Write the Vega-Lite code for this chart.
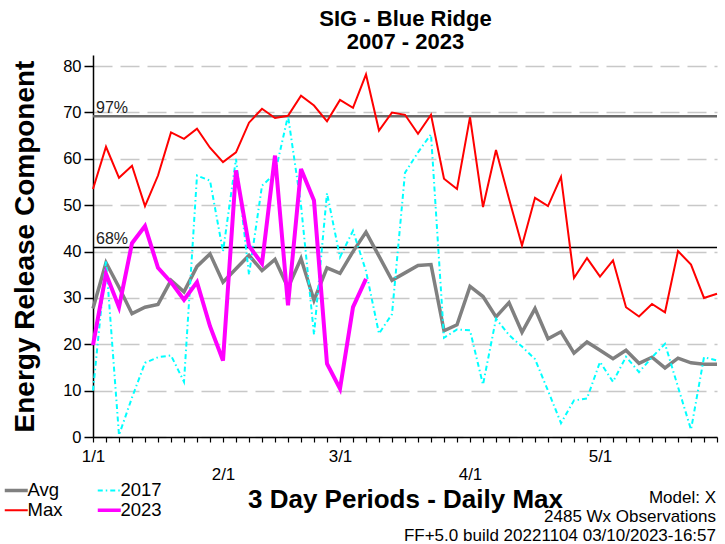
{
  "$schema": "https://vega.github.io/schema/vega-lite/v6.json",
  "width": 624,
  "height": 382,
  "autosize": "none",
  "padding": {"left": 93, "top": 55, "right": 8, "bottom": 107},
  "background": "white",
  "config": {
    "font": "Liberation Sans",
    "view": {"stroke": null},
    "axis": {"labelFont": "Liberation Sans", "titleFont": "Liberation Sans", "labelColor": "black", "titleColor": "black", "domainColor": "black", "tickColor": "black"}
  },
  "title": {
    "text": ["Model: X", "2485 Wx Observations", "FF+5.0 build 20221104 03/10/2023-16:57"],
    "orient": "bottom", "anchor": "end", "fontSize": 17, "fontWeight": "normal", "lineHeight": 19, "offset": -30, "dx": -8, "font": "Liberation Sans", "color": "black"
  },
  "datasets": {
    "erc": [
      {"p": 0, "Avg": 27.7, "Max": 53.5, "Y2017": 10.0, "Y2023": 19.8},
      {"p": 1, "Avg": 37.6, "Max": 62.6, "Y2017": 38.1, "Y2023": 35.2},
      {"p": 2, "Avg": 32.3, "Max": 55.9, "Y2017": 0.4, "Y2023": 28.0},
      {"p": 3, "Avg": 26.6, "Max": 58.5, "Y2017": 8.5, "Y2023": 41.8},
      {"p": 4, "Avg": 28.0, "Max": 49.8, "Y2017": 16.0, "Y2023": 45.5},
      {"p": 5, "Avg": 28.6, "Max": 56.4, "Y2017": 17.2, "Y2023": 36.5},
      {"p": 6, "Avg": 33.8, "Max": 65.7, "Y2017": 17.6, "Y2023": 33.4},
      {"p": 7, "Avg": 31.3, "Max": 64.3, "Y2017": 11.9, "Y2023": 29.6},
      {"p": 8, "Avg": 36.8, "Max": 66.5, "Y2017": 56.4, "Y2023": 33.4},
      {"p": 9, "Avg": 39.5, "Max": 62.4, "Y2017": 55.3, "Y2023": 23.9},
      {"p": 10, "Avg": 33.4, "Max": 59.3, "Y2017": 40.0, "Y2023": 16.5},
      {"p": 11, "Avg": 36.3, "Max": 61.4, "Y2017": 60.0, "Y2023": 57.5},
      {"p": 12, "Avg": 39.2, "Max": 67.8, "Y2017": 35.0, "Y2023": 41.2},
      {"p": 13, "Avg": 35.9, "Max": 70.8, "Y2017": 54.2, "Y2023": 37.4},
      {"p": 14, "Avg": 38.3, "Max": 68.8, "Y2017": 56.8, "Y2023": 60.7},
      {"p": 15, "Avg": 32.2, "Max": 69.3, "Y2017": 69.3, "Y2023": 28.4},
      {"p": 16, "Avg": 38.5, "Max": 73.6, "Y2017": 50.0, "Y2023": 57.8},
      {"p": 17, "Avg": 29.5, "Max": 71.5, "Y2017": 22.1, "Y2023": 51.0},
      {"p": 18, "Avg": 36.5, "Max": 68.1, "Y2017": 52.6, "Y2023": 15.8},
      {"p": 19, "Avg": 35.3, "Max": 72.7, "Y2017": 38.8, "Y2023": 10.4},
      {"p": 20, "Avg": 40.0, "Max": 71.0, "Y2017": 44.5, "Y2023": 28.0},
      {"p": 21, "Avg": 44.2, "Max": 78.2, "Y2017": 35.8, "Y2023": 34.1},
      {"p": 22, "Avg": 39.0, "Max": 66.1, "Y2017": 22.3},
      {"p": 23, "Avg": 33.8, "Max": 70.0, "Y2017": 26.5},
      {"p": 24, "Avg": 35.4, "Max": 69.5, "Y2017": 57.0},
      {"p": 25, "Avg": 37.0, "Max": 65.4, "Y2017": 61.4},
      {"p": 26, "Avg": 37.2, "Max": 69.5, "Y2017": 65.3},
      {"p": 27, "Avg": 22.9, "Max": 55.7, "Y2017": 21.4},
      {"p": 28, "Avg": 24.2, "Max": 53.5, "Y2017": 23.2},
      {"p": 29, "Avg": 32.5, "Max": 69.0, "Y2017": 23.0},
      {"p": 30, "Avg": 30.3, "Max": 49.6, "Y2017": 11.3},
      {"p": 31, "Avg": 25.9, "Max": 61.9, "Y2017": 25.5},
      {"p": 32, "Avg": 29.0, "Max": 51.4, "Y2017": 22.0},
      {"p": 33, "Avg": 22.6, "Max": 41.3, "Y2017": 19.5},
      {"p": 34, "Avg": 27.7, "Max": 51.6, "Y2017": 16.8},
      {"p": 35, "Avg": 21.2, "Max": 49.8, "Y2017": 10.0},
      {"p": 36, "Avg": 22.7, "Max": 56.1, "Y2017": 3.0},
      {"p": 37, "Avg": 18.1, "Max": 34.3, "Y2017": 7.9},
      {"p": 38, "Avg": 20.5, "Max": 38.6, "Y2017": 8.3},
      {"p": 39, "Avg": 18.7, "Max": 34.6, "Y2017": 16.2},
      {"p": 40, "Avg": 16.9, "Max": 38.1, "Y2017": 11.9},
      {"p": 41, "Avg": 18.7, "Max": 28.0, "Y2017": 17.3},
      {"p": 42, "Avg": 15.9, "Max": 26.0, "Y2017": 14.0},
      {"p": 43, "Avg": 17.2, "Max": 28.7, "Y2017": 17.2},
      {"p": 44, "Avg": 14.9, "Max": 26.9, "Y2017": 20.1},
      {"p": 45, "Avg": 17.0, "Max": 40.1, "Y2017": 10.8},
      {"p": 46, "Avg": 16.0, "Max": 37.2, "Y2017": 1.6},
      {"p": 47, "Avg": 15.7, "Max": 30.0, "Y2017": 17.2},
      {"p": 48, "Avg": 15.7, "Max": 30.9, "Y2017": 16.5}
    ],
    "refs": [
      {"label": "97%", "v": 69.2},
      {"label": "68%", "v": 40.9}
    ]
  },
  "layer": [
    {
      "data": {"name": "refs"},
      "mark": {"type": "rule"},
      "encoding": {
        "y": {"field": "v", "type": "quantitative", "title": "Energy Release Component", "scale": {"domain": [0, 82.4], "nice": false, "zero": true}},
        "color": {"condition": {"test": "datum.label === '97%'", "value": "#6a6a6a"}, "value": "black"},
        "strokeWidth": {"condition": {"test": "datum.label === '97%'", "value": 2.5}, "value": 1.5}
      }
    },
    {
      "data": {"name": "refs"},
      "mark": {"type": "text", "align": "left", "baseline": "alphabetic", "dx": 3, "dy": -3, "fontSize": 16, "color": "#222222"},
      "encoding": {
        "x": {"datum": 0, "type": "quantitative", "scale": {"domain": [0, 48], "nice": false, "zero": false}, "axis": null},
        "y": {"field": "v", "type": "quantitative", "title": "Energy Release Component", "scale": {"domain": [0, 82.4], "nice": false, "zero": true}},
        "text": {"field": "label"}
      }
    },
    {
      "data": {"name": "erc"},
      "mark": {"type": "line", "strokeWidth": 3.5},
      "encoding": {
        "x": {
          "field": "p", "type": "quantitative", "scale": {"domain": [0, 48], "nice": false, "zero": false},
          "axis": {
            "orient": "bottom",
            "values": [0,1,2,3,4,5,6,7,8,9,10,11,12,13,14,15,16,17,18,19,20,21,22,23,24,25,26,27,28,29,30,31,32,33,34,35,36,37,38,39,40,41,42,43,44,45,46,47,48],
            "labelExpr": "datum.value == 0 ? '1/1' : datum.value == 10 ? ['', '2/1'] : datum.value == 19 ? '3/1' : datum.value == 29 ? ['', '4/1'] : datum.value == 39 ? '5/1' : ''",
            "labelOverlap": false, "labelFlush": false, "labelFontSize": 17, "labelPadding": 6, "labelLineHeight": 18,
            "tickSize": 5, "tickWidth": 1.2, "grid": false, "domainWidth": 1.5,
            "title": "3 Day Periods - Daily Max", "titleFontSize": 26, "titleFontWeight": "bold", "titlePadding": 4
          }
        },
        "y": {
          "field": "Avg", "type": "quantitative", "title": "Energy Release Component", "scale": {"domain": [0, 82.4], "nice": false, "zero": true},
          "axis": {
            "values": [0, 10, 20, 30, 40, 50, 60, 70, 80],
            "tickSize": 9, "tickWidth": 1.5, "labelPadding": 3, "labelFontSize": 16.5, "domainWidth": 1.5,
            "grid": true, "gridDash": [19, 8], "gridColor": "#c8c8c8", "gridWidth": 1.5,
            "titleFontSize": 28, "titleFontWeight": "bold", "titlePadding": 23
          }
        },
        "color": {
          "datum": "Avg",
          "scale": {"domain": ["Avg", "Max", "2017", "2023"], "range": ["#808080", "#ff0000", "#00ffff", "#ff00ff"]},
          "legend": {
            "title": null, "orient": "none", "legendX": -86, "legendY": 426, "columns": 2,
            "symbolType": "stroke", "symbolSize": 529, "labelFontSize": 18.5, "labelFont": "Liberation Sans", "labelColor": "black",
            "columnPadding": 27, "rowPadding": 1, "labelOffset": 2,
            "encode": {"symbols": {"update": {
              "strokeWidth": {"signal": "datum.value === 'Avg' || datum.value === '2023' ? 3.5 : 2"},
              "strokeDash": {"signal": "datum.value === '2017' ? [5, 3, 1.5, 3] : [1, 0]"}
            }}}
          }
        }
      }
    },
    {
      "data": {"name": "erc"},
      "mark": {"type": "line", "strokeWidth": 2, "strokeDash": [5, 3, 1.5, 3]},
      "encoding": {
        "x": {"field": "p", "type": "quantitative", "scale": {"domain": [0, 48], "nice": false, "zero": false}, "axis": null},
        "y": {"field": "Y2017", "type": "quantitative", "title": "Energy Release Component", "scale": {"domain": [0, 82.4], "nice": false, "zero": true}},
        "color": {"datum": "2017"}
      }
    },
    {
      "data": {"name": "erc"},
      "mark": {"type": "line", "strokeWidth": 2},
      "encoding": {
        "x": {"field": "p", "type": "quantitative", "scale": {"domain": [0, 48], "nice": false, "zero": false}, "axis": null},
        "y": {"field": "Max", "type": "quantitative", "title": "Energy Release Component", "scale": {"domain": [0, 82.4], "nice": false, "zero": true}},
        "color": {"datum": "Max"}
      }
    },
    {
      "data": {"name": "erc"},
      "mark": {"type": "line", "strokeWidth": 4},
      "encoding": {
        "x": {
          "field": "p", "type": "quantitative", "scale": {"domain": [0, 48], "nice": false, "zero": false},
          "axis": {"orient": "top", "title": ["SIG - Blue Ridge", "2007 - 2023"], "domain": false, "ticks": false, "labels": false, "grid": false, "titleFontSize": 22, "titleFontWeight": "bold", "titleLineHeight": 23, "titlePadding": 2}
        },
        "y": {"field": "Y2023", "type": "quantitative", "title": "Energy Release Component", "scale": {"domain": [0, 82.4], "nice": false, "zero": true}},
        "color": {"datum": "2023"}
      }
    }
  ],
  "resolve": {"axis": {"x": "independent"}}
}
